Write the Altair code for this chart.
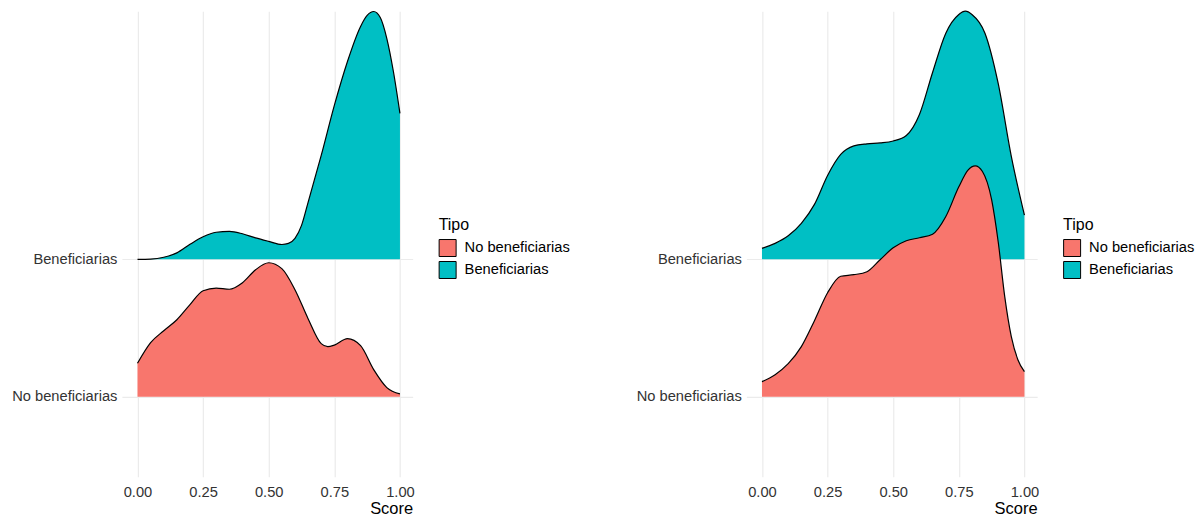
import altair as alt
import pandas as pd

# Category names, colours
tipos = ["No beneficiarias", "Beneficiarias"]
colores = ["#F8766D", "#00BFC4"]
ticks_x = [0, 0.25, 0.5, 0.75, 1.0]

# Ridge heights (in units of the spacing between the two ridge baselines)
# ---- Left panel ----
left_benef_x = [0, 0.05, 0.10, 0.15, 0.20, 0.25, 0.30, 0.35, 0.40, 0.45, 0.50, 0.55, 0.575,
                0.60, 0.625, 0.65, 0.70, 0.75, 0.80, 0.85, 0.875, 0.90, 0.925, 0.95, 0.975, 1.0]
left_benef_h = [0.0, 0.002, 0.015, 0.047, 0.109, 0.164, 0.197, 0.204, 0.186, 0.156, 0.131, 0.108, 0.116,
                0.153, 0.247, 0.415, 0.757, 1.121, 1.441, 1.696, 1.776, 1.805, 1.761, 1.608, 1.368, 1.063]

left_nobenef_x = [0, 0.05, 0.10, 0.15, 0.20, 0.25, 0.30, 0.35, 0.40, 0.45, 0.50, 0.55, 0.60,
                  0.65, 0.70, 0.725, 0.75, 0.80, 0.85, 0.90, 0.95, 1.0]
left_nobenef_h = [0.243, 0.393, 0.480, 0.560, 0.670, 0.771, 0.790, 0.782, 0.830, 0.924, 0.975, 0.932, 0.779,
                  0.568, 0.386, 0.364, 0.375, 0.422, 0.371, 0.197, 0.066, 0.020]

# ---- Right panel ----
right_benef_x = [0, 0.05, 0.10, 0.15, 0.20, 0.25, 0.30, 0.35, 0.40, 0.45, 0.50, 0.55, 0.60,
                 0.65, 0.70, 0.75, 0.775, 0.80, 0.85, 0.90, 0.95, 1.0]
right_benef_h = [0.080, 0.116, 0.171, 0.262, 0.400, 0.611, 0.764, 0.826, 0.841, 0.848, 0.862, 0.902, 1.055,
                 1.361, 1.645, 1.783, 1.807, 1.783, 1.645, 1.281, 0.750, 0.322]

right_nobenef_x = [0, 0.05, 0.10, 0.15, 0.20, 0.25, 0.30, 0.35, 0.40, 0.45, 0.50, 0.55, 0.60,
                   0.65, 0.70, 0.75, 0.785, 0.8125, 0.84, 0.875, 0.90, 0.925, 0.95, 0.975, 1.0]
right_nobenef_h = [0.109, 0.160, 0.240, 0.364, 0.553, 0.757, 0.877, 0.888, 0.910, 0.997, 1.084, 1.135, 1.157,
                   1.183, 1.310, 1.528, 1.650, 1.681, 1.640, 1.434, 1.128, 0.728, 0.437, 0.269, 0.182]


def make_df(bx, bh, nx, nh):
    rows = []
    for x, h in zip(bx, bh):
        rows.append({"tipo": "Beneficiarias", "score": x, "base": 2, "top": 2 + h})
    for x, h in zip(nx, nh):
        rows.append({"tipo": "No beneficiarias", "score": x, "base": 1, "top": 1 + h})
    return pd.DataFrame(rows)


FONT = "Liberation Sans"


def panel(df):
    xenc = alt.X("score:Q",
                 scale=alt.Scale(domain=[-0.0594, 1.0484], nice=False, zero=False),
                 axis=alt.Axis(values=ticks_x, format=".2f", title="Score",
                               titleAnchor="end", labelPadding=8, titlePadding=1))
    yenc = alt.Y("top:Q",
                 scale=alt.Scale(domain=[0.416, 3.807], nice=False, zero=False),
                 axis=alt.Axis(values=[1, 2], title=None, labelPadding=5,
                               labelExpr="datum.value == 1 ? 'No beneficiarias' : 'Beneficiarias'"))
    color = alt.Color("tipo:N",
                      scale=alt.Scale(domain=tipos, range=colores),
                      legend=alt.Legend(title="Tipo", orient="none", legendX=317, legendY=206,
                                        symbolType="square", symbolSize=289,
                                        symbolStrokeColor="black", symbolStrokeWidth=1,
                                        symbolOpacity=1, rowPadding=0, titlePadding=6,
                                        labelOffset=8, padding=0))
    layers = []
    for t in ["Beneficiarias", "No beneficiarias"]:
        sub = alt.Chart(df).transform_filter(alt.datum.tipo == t)
        layers.append(sub.mark_area(interpolate="monotone", opacity=1).encode(
            x=xenc, y=yenc, y2="base:Q", color=color))
        layers.append(sub.mark_line(interpolate="monotone", color="black", strokeWidth=1.2).encode(
            x=xenc, y=yenc))
    return alt.layer(*layers).properties(width=291, height=466)


left = panel(make_df(left_benef_x, left_benef_h, left_nobenef_x, left_nobenef_h))
right = panel(make_df(right_benef_x, right_benef_h, right_nobenef_x, right_nobenef_h))

chart = alt.hconcat(left, right, spacing=334, bounds="flush").resolve_scale(
    color="independent"
).properties(
    padding={"left": 3, "top": 0, "right": 0, "bottom": 0}
).configure_view(stroke=None).configure_axis(
    domain=False, ticks=False, grid=True, gridColor="#EBEBEB", gridWidth=1.2,
    labelFont=FONT, labelFontSize=14.7, labelColor="#333333",
    titleFont=FONT, titleFontSize=16.5, titleFontWeight="normal", titleColor="#000000"
).configure_legend(
    titleFont=FONT, titleFontSize=16, titleFontWeight="normal", titleColor="#000000",
    labelFont=FONT, labelFontSize=14.7, labelColor="#000000"
)

chart.save("out.html", embed_options={"renderer": "svg", "actions": False})
